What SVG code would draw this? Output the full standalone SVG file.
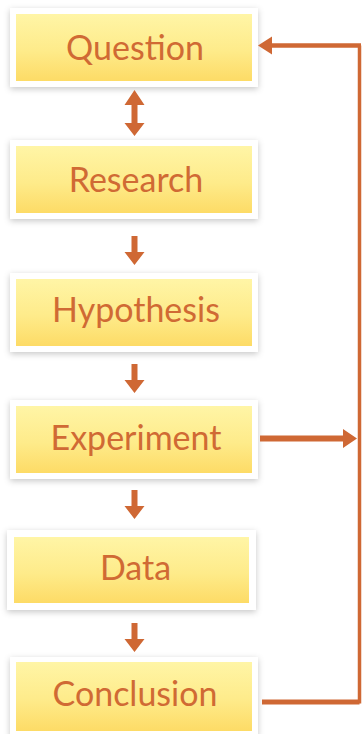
<svg xmlns="http://www.w3.org/2000/svg" width="362" height="734" viewBox="0 0 362 734">
<defs>
<linearGradient id="fill" x1="0" y1="0" x2="0" y2="1">
<stop offset="0" stop-color="#FFF5A6"/>
<stop offset="0.55" stop-color="#FEEB8A"/>
<stop offset="1" stop-color="#FDDB66"/>
</linearGradient>
<filter id="sh" x="-10%" y="-20%" width="120%" height="140%">
<feDropShadow dx="0" dy="2" stdDeviation="3" flood-color="#000" flood-opacity="0.22"/>
</filter>
</defs>
<style>
.frame{fill:#fff;filter:url(#sh);}
.inner{fill:url(#fill);}
.lbl{font-family:Lato,"Liberation Sans",sans-serif;font-size:34px;fill:#D06A34;text-anchor:middle;}
.ar{fill:#CF6834;}
.ln{stroke:#CF6834;fill:none;}
</style>
<rect width="362" height="734" fill="#fff"/>
<g id="question"><rect class="frame" x="10" y="8" width="248" height="79"/><rect class="inner" x="16" y="14" width="236" height="67"/><text class="lbl" x="135" y="60">Question</text></g>
<g id="research"><rect class="frame" x="10" y="140" width="248" height="79"/><rect class="inner" x="16" y="146" width="236" height="67"/><text class="lbl" x="136" y="192">Research</text></g>
<g id="hypothesis"><rect class="frame" x="10" y="273" width="248" height="79"/><rect class="inner" x="16" y="279" width="236" height="67"/><text class="lbl" x="136" y="322">Hypothesis</text></g>
<g id="experiment"><rect class="frame" x="10" y="400" width="248" height="79"/><rect class="inner" x="16" y="406" width="236" height="67"/><text class="lbl" x="136" y="450">Experiment</text></g>
<g id="data"><rect class="frame" x="7" y="530" width="249" height="80"/><rect class="inner" x="14" y="537" width="235" height="66"/><text class="lbl" x="135.5" y="580">Data</text></g>
<g id="conclusion"><rect class="frame" x="10" y="657" width="248" height="80"/><rect class="inner" x="16" y="662" width="236" height="69"/><text class="lbl" x="135" y="706">Conclusion</text></g>
<g id="connectors">
<path class="ar" d="M134.5 90 L144.5 105 L137.5 105 L137.5 123 L144.5 123 L134.5 136 L124.5 123 L131.5 123 L131.5 105 L124.5 105 Z"/>
<path class="ar" d="M131.5 236 L137.5 236 L137.5 252 L144.5 252 L134.5 265 L124.5 252 L131.5 252 Z"/>
<path class="ar" d="M131.5 364 L137.5 364 L137.5 380 L144.5 380 L134.5 393 L124.5 380 L131.5 380 Z"/>
<path class="ar" d="M131.5 490 L137.5 490 L137.5 506 L144.5 506 L134.5 519 L124.5 506 L131.5 506 Z"/>
<path class="ar" d="M131.5 623 L137.5 623 L137.5 639 L144.5 639 L134.5 652 L124.5 639 L131.5 639 Z"/>
<path class="ar" d="M260 435.5 L343 435.5 L343 429 L357 438.5 L343 448 L343 441.5 L260 441.5 Z"/>
<path class="ln" stroke-width="5" d="M262 702 L359.5 702"/>
<path class="ln" stroke-width="3.5" d="M359.5 703.5 L359.5 45.5"/>
<path class="ln" stroke-width="4.5" d="M361 45.5 L270 45.5"/>
<path class="ar" d="M258 45.5 L272 36.5 L272 54.5 Z"/>
</g>
</svg>
